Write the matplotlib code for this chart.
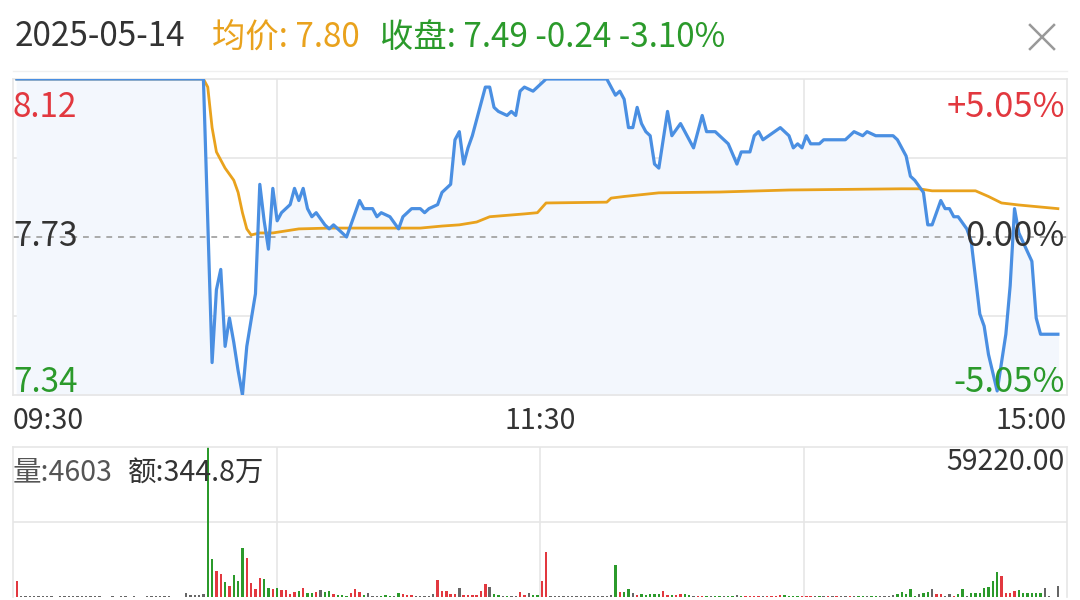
import numpy as np
import matplotlib
matplotlib.use("Agg")
import matplotlib.pyplot as plt
from matplotlib.lines import Line2D

plt.rcParams['font.family'] = ['Noto Sans CJK SC', 'DejaVu Sans']

# === Data ===
trade_date = "2025-05-14"
prev_close = 7.73
price_hi = 8.12
price_lo = 7.34
avg_last = 7.80
close_last = 7.49

# minute index (0 = 09:30, 240 = 15:00) and price at the turning points of the line
price_idx = [0, 43, 45, 46, 47, 48, 49, 50, 51, 52, 53, 55, 56, 57, 58, 59, 60, 61, 63, 64,
             65, 66, 67, 68, 69, 71, 72, 73, 76, 77, 79, 80, 82, 83, 84, 86, 88, 89, 91, 93,
             94, 95, 97, 98, 100, 101, 102, 103, 104, 105, 106, 108, 109, 110, 111, 113, 114, 115, 116, 117,
             119, 121, 122, 136, 138, 139, 140, 141, 142, 143, 144, 145, 146, 147, 148, 150, 151, 153, 154, 156,
             158, 159, 161, 162, 164, 166, 167, 169, 170, 171, 172, 176, 178, 179, 180, 181, 182, 183, 185, 186,
             191, 193, 195, 196, 198, 202, 203, 205, 206, 207, 209, 210, 211, 213, 214, 215, 216, 217, 219, 220,
             222, 223, 224, 226, 228, 229, 230, 231, 234, 235, 236, 240]
price_val = [8.12, 8.12, 7.42, 7.60, 7.65, 7.46, 7.53, 7.47, 7.40, 7.34, 7.46, 7.59, 7.86, 7.77, 7.70, 7.85, 7.77, 7.79, 7.81, 7.85,
             7.82, 7.85, 7.80, 7.78, 7.79, 7.76, 7.75, 7.76, 7.73, 7.76, 7.82, 7.80, 7.80, 7.78, 7.79, 7.78, 7.75, 7.78, 7.80, 7.80,
             7.79, 7.80, 7.81, 7.84, 7.86, 7.97, 7.99, 7.91, 7.95, 7.98, 8.02, 8.10, 8.10, 8.05, 8.04, 8.03, 8.04, 8.03, 8.09, 8.10,
             8.09, 8.11, 8.12, 8.12, 8.08, 8.09, 8.07, 8.00, 8.00, 8.05, 8.01, 7.99, 7.98, 7.91, 7.90, 8.04, 7.98, 8.01, 7.99, 7.95,
             8.03, 7.99, 7.99, 7.98, 7.96, 7.91, 7.94, 7.94, 7.98, 7.99, 7.97, 8.00, 7.98, 7.95, 7.96, 7.95, 7.98, 7.96, 7.96, 7.97,
             7.97, 7.99, 7.98, 7.99, 7.98, 7.98, 7.97, 7.93, 7.88, 7.87, 7.84, 7.76, 7.76, 7.82, 7.80, 7.80, 7.78, 7.78, 7.75, 7.72,
             7.54, 7.51, 7.44, 7.35, 7.49, 7.61, 7.80, 7.74, 7.67, 7.53, 7.49, 7.49]

avg_idx = [0, 43, 44, 45, 46, 48, 50, 51, 52, 53, 54, 56, 59, 65, 72, 93, 98, 102, 106, 109,
           117, 120, 122, 136, 137, 140, 148, 162, 178, 204, 208, 211, 221, 224, 227, 231, 236, 240]
avg_val = [8.12, 8.12, 8.10, 8.00, 7.94, 7.90, 7.87, 7.84, 7.79, 7.75, 7.735, 7.74, 7.74, 7.75, 7.752, 7.752, 7.757, 7.76, 7.767, 7.78,
           7.787, 7.79, 7.814, 7.816, 7.826, 7.83, 7.839, 7.841, 7.846, 7.849, 7.849, 7.844, 7.844, 7.83, 7.814, 7.809, 7.804, 7.80]

# volume per minute, and bar colour code: r = up, g = down, n = unchanged
volume = [
    6300, 400, 400, 400, 400, 400, 400, 400, 400, 0,
    400, 400, 400, 400, 400, 400, 400, 400, 400, 400,
    0, 0, 400, 0, 400, 400, 0, 400, 0, 0,
    400, 400, 400, 400, 400, 400, 0, 0, 0, 1600,
    800, 800, 800, 1200, 59220, 15000, 10300, 9100, 5900, 4300,
    8700, 6300, 19400, 15400, 5500, 3200, 7500, 7100, 3600, 3200,
    3600, 2800, 2800, 1200, 2000, 2400, 3600, 1600, 1600, 2000,
    2800, 2000, 2400, 1200, 800, 800, 400, 1600, 3200, 2000,
    800, 1600, 400, 400, 400, 600, 400, 400, 1600, 1000,
    800, 800, 400, 400, 400, 400, 1200, 6700, 2400, 2400,
    1200, 1200, 3600, 800, 800, 800, 800, 2400, 5100, 4000,
    1200, 600, 400, 400, 400, 400, 2000, 800, 1600, 800,
    600, 6300, 17900, 300, 300, 300, 300, 300, 300, 300,
    300, 300, 300, 300, 300, 300, 300, 800, 12600, 2000,
    2000, 3200, 1600, 600, 1000, 800, 1200, 1200, 1000, 2400,
    800, 800, 600, 1200, 1000, 800, 400, 400, 400, 400,
    400, 400, 400, 400, 400, 400, 600, 400, 400, 400,
    400, 400, 400, 400, 400, 400, 800, 600, 400, 400,
    400, 400, 400, 300, 300, 300, 300, 300, 300, 300,
    300, 400, 400, 300, 400, 400, 300, 400, 400, 300,
    400, 400, 800, 1200, 2000, 1200, 3200, 400, 1200, 1600,
    2000, 3200, 1200, 1200, 400, 1200, 400, 1200, 3200, 400,
    1600, 1600, 1600, 3600, 4000, 6300, 9900, 8300, 1600, 1600,
    2400, 2800, 1600, 1600, 1600, 1600, 1600, 3600, 200, 0,
    4400,
]
vol_dir = list(
    "rnnnnnnnnn" "nnnnnnnnnn" "nnnnnnnnnn" "nnnnnnnnnn"
    "nnnnggrrgr" "gggrrrrggr" "grrrrgrggr" "nggrgggrrr"
    "gnnngggngr" "rrnnnnnrrr" "rrnrrrrrrn" "ggngnnrrng"
    "grrnnnnnnn" "nnnnnnnngr" "ggnrgggggr" "rgrrggnrrg"
    "nggnggngrr" "rrnrrrrggg" "grrrngnrnr"
    "nnrnggnggn" "nnngggggng" "gnrrnnrggn" "gggggggrrr"
    "rggggggnnn" "n"
)
max_volume = 59220

vol_label = "量:4603"
amt_label = "额:344.8万"

# === Colours ===
RED = "#e2383f"
GREEN = "#2b9a2b"
GREY = "#666666"
BLUE = "#4a8fe2"
ORANGE = "#e9a21d"
GRID = "#e6e6e6"
dir_color = {"r": RED, "g": GREEN, "n": GREY}

# === Figure ===
W, H = 1080, 600
fig = plt.figure(figsize=(W / 100, H / 100), dpi=100)
fig.patch.set_facecolor("white")

def box(left, top, right, bottom):
    return [left / W, 1 - bottom / H, (right - left) / W, (bottom - top) / H]

xlim = (-0.9, 242.1)
xq = [xlim[0] + (xlim[1] - xlim[0]) * k / 4 for k in (1, 2, 3)]

# --- price panel ---
ax = fig.add_axes(box(13, 79, 1067, 395))
ax.set_xlim(*xlim)
ax.set_ylim(price_lo, price_hi)
for s in ax.spines.values():
    s.set_color(GRID)
    s.set_linewidth(1.2)
ax.set_xticks([])
ax.set_yticks([])
for xv in xq:
    ax.axvline(xv, color=GRID, lw=1.2, zorder=0)
for k in (1, 3):
    ax.axhline(price_lo + (price_hi - price_lo) * k / 4, color=GRID, lw=1.2, zorder=0)
ax.axhline(prev_close, color="#aaaaaa", lw=1.4, ls=(0, (3, 3)), zorder=1)

ax.fill_between(price_idx, price_val, price_lo, color="#f3f7fd", zorder=0.5)
ax.plot(avg_idx, avg_val, color=ORANGE, lw=2.0, zorder=3)
ax.plot(price_idx, price_val, color=BLUE, lw=2.3, zorder=4)

fs_price = 24
fs_pct = 25
ax.text(0.0, 0.965, f"{price_hi:.2f}", transform=ax.transAxes, color=RED, fontsize=fs_price, ha="left", va="top")
ax.text(0.0, 0.5, f"{prev_close:.2f}", transform=ax.transAxes, color="#333333", fontsize=fs_price, ha="left", va="center")
ax.text(0.0, -0.015, f"{price_lo:.2f}", transform=ax.transAxes, color=GREEN, fontsize=fs_price, ha="left", va="bottom")
ax.text(0.998, 0.965, "+5.05%", transform=ax.transAxes, color=RED, fontsize=fs_pct, ha="right", va="top")
ax.text(0.998, 0.5, "0.00%", transform=ax.transAxes, color="#333333", fontsize=fs_pct, ha="right", va="center", zorder=5)
ax.text(0.998, -0.015, "-5.05%", transform=ax.transAxes, color=GREEN, fontsize=fs_pct, ha="right", va="bottom", zorder=5)

# time labels
fs_small = 20.5
fig.text(13 / W, 1 - 421 / H, "09:30", color="#333333", fontsize=fs_small, ha="left", va="center")
fig.text(540 / W, 1 - 421 / H, "11:30", color="#333333", fontsize=fs_small, ha="center", va="center")
fig.text(1067 / W, 1 - 421 / H, "15:00", color="#333333", fontsize=fs_small, ha="right", va="center")

# --- volume panel ---
vx = fig.add_axes(box(13, 447, 1067, 597))
vx.set_xlim(*xlim)
vx.set_ylim(0, max_volume)
for s in vx.spines.values():
    s.set_color(GRID)
    s.set_linewidth(1.2)
vx.spines["bottom"].set_visible(False)
vx.set_xticks([])
vx.set_yticks([])
for xv in xq:
    vx.axvline(xv, color=GRID, lw=1.2, zorder=0)
vx.axhline(max_volume / 2, color=GRID, lw=1.2, zorder=0)
vx.bar(np.arange(len(volume)), volume, width=0.55,
       color=[dir_color[c] for c in vol_dir[:len(volume)]], zorder=2)

vx.text(0.0, 0.83, vol_label, transform=vx.transAxes, color="#555555", fontsize=fs_small, ha="left", va="center")
vx.text(115 / 1054, 0.83, amt_label, transform=vx.transAxes, color="#333333", fontsize=fs_small, ha="left", va="center")
vx.text(0.998, 0.9, f"{max_volume:.2f}", transform=vx.transAxes, color="#333333", fontsize=fs_small, ha="right", va="center")

# === Header ===
fs_head = 24
ty = 1 - 37 / H
fig.text(15 / W, ty, trade_date, color="#333333", fontsize=fs_head, ha="left", va="center")
fig.text(212 / W, ty, f"均价: {avg_last:.2f}", color=ORANGE, fontsize=fs_head, ha="left", va="center")
chg = close_last - prev_close
fig.text(380 / W, ty, f"收盘: {close_last:.2f} {chg:.2f} {chg / prev_close * 100:.2f}%",
         color=GREEN, fontsize=fs_head, ha="left", va="center")

# close button
for (x0, y0, x1, y1) in [(1030, 25, 1054, 49), (1030, 49, 1054, 25)]:
    fig.add_artist(Line2D([x0 / W, x1 / W], [1 - y0 / H, 1 - y1 / H], color="#999999", lw=1.8))
fig.add_artist(Line2D([13 / W, 1067 / W], [1 - 71 / H, 1 - 71 / H], color="#f0f0f0", lw=1.0))

fig.savefig("out.png", dpi=100, facecolor="white")
